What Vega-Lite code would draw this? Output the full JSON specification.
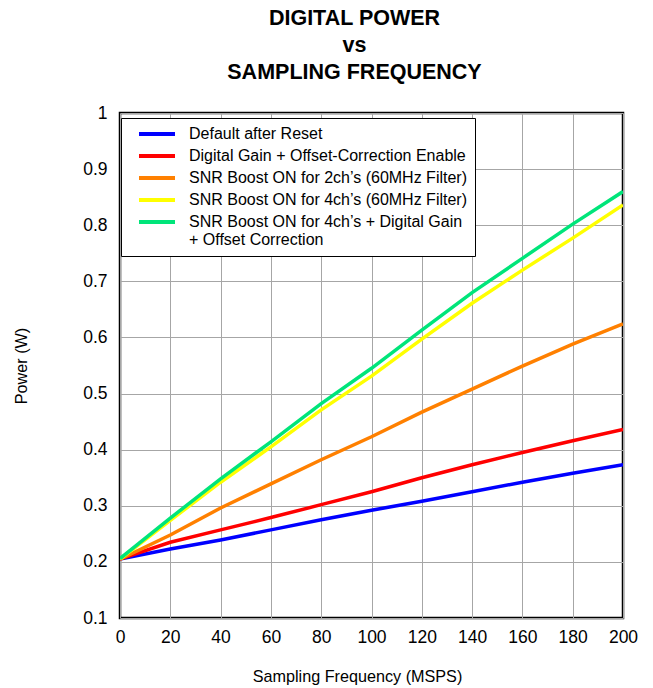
{
  "$schema": "https://vega.github.io/schema/vega-lite/v6.json",
  "width": 503,
  "height": 505,
  "autosize": {"type": "none"},
  "padding": {"left": 120, "top": 113, "right": 30, "bottom": 70},
  "background": "white",
  "title": {
    "text": ["DIGITAL POWER", "vs", "SAMPLING FREQUENCY"],
    "font": "Liberation Sans",
    "fontSize": 21.5,
    "fontWeight": "bold",
    "lineHeight": 27,
    "anchor": "middle",
    "dx": -17,
    "offset": 21,
    "color": "black"
  },
  "config": {
    "view": {"stroke": "black", "strokeWidth": 2.5},
    "font": "Liberation Sans",
    "axis": {
      "grid": true,
      "gridColor": "#a6a6a6",
      "gridWidth": 1,
      "gridOpacity": 1,
      "domain": false,
      "ticks": false,
      "labelFont": "Liberation Sans",
      "labelFontSize": 17.5,
      "labelColor": "black",
      "titleFont": "Liberation Sans",
      "titleFontSize": 16.2,
      "titleFontWeight": "normal",
      "titleColor": "black"
    }
  },
  "data": {
    "values": [
      {"f": 0, "p": 0.205, "s": "Default after Reset"},
      {"f": 20, "p": 0.223, "s": "Default after Reset"},
      {"f": 40, "p": 0.239, "s": "Default after Reset"},
      {"f": 60, "p": 0.257, "s": "Default after Reset"},
      {"f": 80, "p": 0.275, "s": "Default after Reset"},
      {"f": 100, "p": 0.292, "s": "Default after Reset"},
      {"f": 120, "p": 0.308, "s": "Default after Reset"},
      {"f": 140, "p": 0.325, "s": "Default after Reset"},
      {"f": 160, "p": 0.342, "s": "Default after Reset"},
      {"f": 180, "p": 0.358, "s": "Default after Reset"},
      {"f": 200, "p": 0.373, "s": "Default after Reset"},
      {"f": 0, "p": 0.205, "s": "Digital Gain + Offset-Correction Enable"},
      {"f": 20, "p": 0.235, "s": "Digital Gain + Offset-Correction Enable"},
      {"f": 40, "p": 0.257, "s": "Digital Gain + Offset-Correction Enable"},
      {"f": 60, "p": 0.279, "s": "Digital Gain + Offset-Correction Enable"},
      {"f": 80, "p": 0.302, "s": "Digital Gain + Offset-Correction Enable"},
      {"f": 100, "p": 0.325, "s": "Digital Gain + Offset-Correction Enable"},
      {"f": 120, "p": 0.35, "s": "Digital Gain + Offset-Correction Enable"},
      {"f": 140, "p": 0.373, "s": "Digital Gain + Offset-Correction Enable"},
      {"f": 160, "p": 0.395, "s": "Digital Gain + Offset-Correction Enable"},
      {"f": 180, "p": 0.416, "s": "Digital Gain + Offset-Correction Enable"},
      {"f": 200, "p": 0.436, "s": "Digital Gain + Offset-Correction Enable"},
      {"f": 0, "p": 0.205, "s": "SNR Boost ON for 2ch’s (60MHz Filter)"},
      {"f": 20, "p": 0.248, "s": "SNR Boost ON for 2ch’s (60MHz Filter)"},
      {"f": 40, "p": 0.296, "s": "SNR Boost ON for 2ch’s (60MHz Filter)"},
      {"f": 60, "p": 0.339, "s": "SNR Boost ON for 2ch’s (60MHz Filter)"},
      {"f": 80, "p": 0.382, "s": "SNR Boost ON for 2ch’s (60MHz Filter)"},
      {"f": 100, "p": 0.423, "s": "SNR Boost ON for 2ch’s (60MHz Filter)"},
      {"f": 120, "p": 0.467, "s": "SNR Boost ON for 2ch’s (60MHz Filter)"},
      {"f": 140, "p": 0.508, "s": "SNR Boost ON for 2ch’s (60MHz Filter)"},
      {"f": 160, "p": 0.549, "s": "SNR Boost ON for 2ch’s (60MHz Filter)"},
      {"f": 180, "p": 0.588, "s": "SNR Boost ON for 2ch’s (60MHz Filter)"},
      {"f": 200, "p": 0.624, "s": "SNR Boost ON for 2ch’s (60MHz Filter)"},
      {"f": 0, "p": 0.205, "s": "SNR Boost ON for 4ch’s (60MHz Filter)"},
      {"f": 20, "p": 0.274, "s": "SNR Boost ON for 4ch’s (60MHz Filter)"},
      {"f": 40, "p": 0.342, "s": "SNR Boost ON for 4ch’s (60MHz Filter)"},
      {"f": 60, "p": 0.405, "s": "SNR Boost ON for 4ch’s (60MHz Filter)"},
      {"f": 80, "p": 0.471, "s": "SNR Boost ON for 4ch’s (60MHz Filter)"},
      {"f": 100, "p": 0.531, "s": "SNR Boost ON for 4ch’s (60MHz Filter)"},
      {"f": 120, "p": 0.597, "s": "SNR Boost ON for 4ch’s (60MHz Filter)"},
      {"f": 140, "p": 0.661, "s": "SNR Boost ON for 4ch’s (60MHz Filter)"},
      {"f": 160, "p": 0.72, "s": "SNR Boost ON for 4ch’s (60MHz Filter)"},
      {"f": 180, "p": 0.777, "s": "SNR Boost ON for 4ch’s (60MHz Filter)"},
      {"f": 200, "p": 0.836, "s": "SNR Boost ON for 4ch’s (60MHz Filter)"},
      {"f": 0, "p": 0.206, "s": "SNR Boost ON for 4ch’s + Digital Gain|+ Offset Correction"},
      {"f": 20, "p": 0.278, "s": "SNR Boost ON for 4ch’s + Digital Gain|+ Offset Correction"},
      {"f": 40, "p": 0.348, "s": "SNR Boost ON for 4ch’s + Digital Gain|+ Offset Correction"},
      {"f": 60, "p": 0.414, "s": "SNR Boost ON for 4ch’s + Digital Gain|+ Offset Correction"},
      {"f": 80, "p": 0.482, "s": "SNR Boost ON for 4ch’s + Digital Gain|+ Offset Correction"},
      {"f": 100, "p": 0.545, "s": "SNR Boost ON for 4ch’s + Digital Gain|+ Offset Correction"},
      {"f": 120, "p": 0.613, "s": "SNR Boost ON for 4ch’s + Digital Gain|+ Offset Correction"},
      {"f": 140, "p": 0.68, "s": "SNR Boost ON for 4ch’s + Digital Gain|+ Offset Correction"},
      {"f": 160, "p": 0.741, "s": "SNR Boost ON for 4ch’s + Digital Gain|+ Offset Correction"},
      {"f": 180, "p": 0.802, "s": "SNR Boost ON for 4ch’s + Digital Gain|+ Offset Correction"},
      {"f": 200, "p": 0.86, "s": "SNR Boost ON for 4ch’s + Digital Gain|+ Offset Correction"}
    ]
  },
  "mark": {"type": "line", "strokeWidth": 3.5, "clip": true},
  "encoding": {
    "x": {
      "field": "f",
      "type": "quantitative",
      "title": "Sampling Frequency (MSPS)",
      "scale": {"domain": [0, 200], "nice": false},
      "axis": {"values": [0, 20, 40, 60, 80, 100, 120, 140, 160, 180, 200], "labelPadding": 10, "titlePadding": 23, "titleX": 237, "labelFlush": false}
    },
    "y": {
      "field": "p",
      "type": "quantitative",
      "title": "Power (W)",
      "scale": {"domain": [0.1, 1], "nice": false, "zero": false},
      "axis": {"values": [0.1, 0.2, 0.3, 0.4, 0.5, 0.6, 0.7, 0.8, 0.9, 1], "format": ".1~f", "labelPadding": 13, "titlePadding": 53, "labelFlush": false}
    },
    "color": {
      "field": "s",
      "type": "nominal",
      "scale": {
        "domain": [
          "Default after Reset",
          "Digital Gain + Offset-Correction Enable",
          "SNR Boost ON for 2ch’s (60MHz Filter)",
          "SNR Boost ON for 4ch’s (60MHz Filter)",
          "SNR Boost ON for 4ch’s + Digital Gain|+ Offset Correction"
        ],
        "range": ["#0000ff", "#ff0000", "#ff8000", "#ffff00", "#00e57a"]
      },
      "legend": {
        "title": null,
        "orient": "none",
        "legendX": 1,
        "legendY": 5,
        "padding": 8,
        "fillColor": "white",
        "strokeColor": "black",
        "symbolType": "M-4.5,0H4.5",
        "symbolSize": 64,
        "symbolStrokeWidth": 4,
        "symbolOffset": 20,
        "labelOffset": 24,
        "labelFont": "Liberation Sans",
        "labelFontSize": 16,
        "labelColor": "black",
        "labelLimit": 400,
        "labelLineHeight": 17,
        "rowPadding": 6,
        "labelExpr": "split(datum.label, '|')"
      }
    }
  }
}
